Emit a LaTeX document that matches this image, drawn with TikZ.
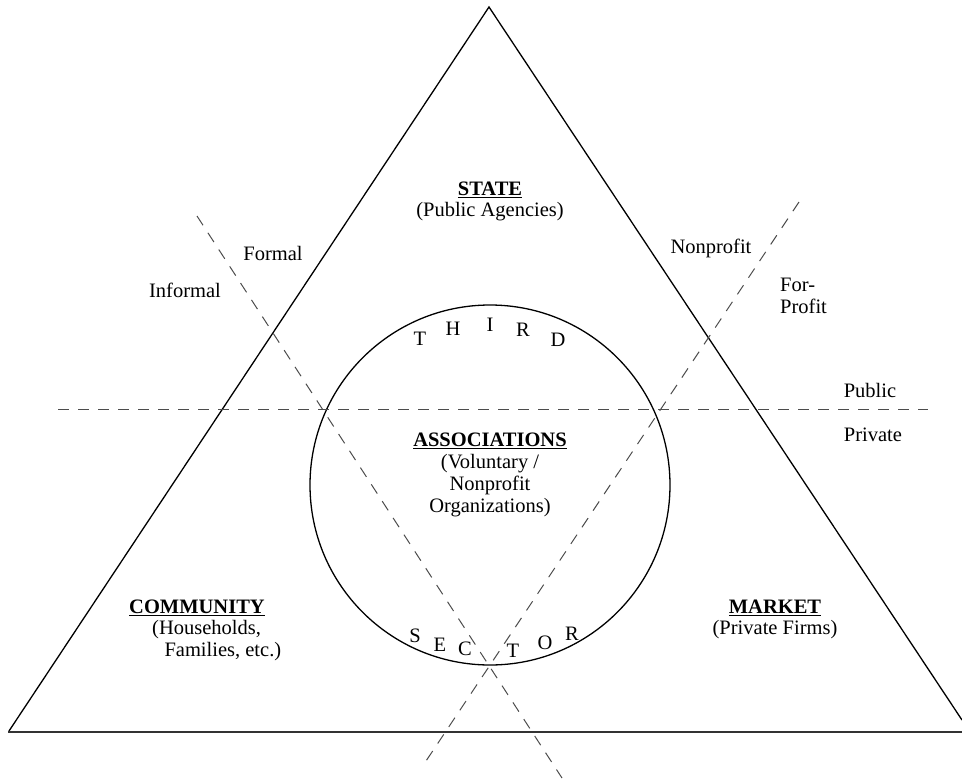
\documentclass[tikz,border=0pt]{standalone}
\usepackage{fontspec}
\setmainfont{Liberation Serif}
\begin{document}
\begin{tikzpicture}[x=1pt,y=-1pt,
  lbl/.style={font=\fontsize{20.5}{22}\selectfont, inner sep=0pt, align=center},
  ttl/.style={lbl, font=\fontsize{20.5}{22}\selectfont\bfseries},
  side/.style={line width=1.3pt, black},
  dsh/.style={line width=1pt, black!70, dash pattern=on 11pt off 9pt}]
\useasboundingbox (0,0) rectangle (962,780);
% triangle
\coordinate (apex) at (489,7);
\coordinate (bl) at (9,731);
\coordinate (br) at (962,720);
\draw[side, line join=miter] (bl) -- (apex) -- (br);
\draw[line width=2pt, black!80] (8,732) -- (962,732);
% circle
\draw[line width=1.3pt] (490,485) circle (180);
% dashed lines
\draw[dsh] (58,409) -- (928,409);
\draw[dsh] (197,216) -- (562,778);
\draw[dsh] (799,202) -- (422,767);
% titles
\node[ttl] (state) at (490,190) {\underline{STATE}};
\node[lbl] (statesub) at (490,212) {(Public Agencies)};
\node[ttl] (assoc) at (490,441) {\underline{ASSOCIATIONS}};
\node[lbl] (assocsub) at (490,486) {(Voluntary /\\Nonprofit\\Organizations)};
\node[ttl] (comm) at (197,608) {\underline{COMMUNITY}};
\node[lbl, align=left, anchor=west] (commsub) at (152,641) {(Households,\\\hspace*{0.6em}Families, etc.)};
\node[ttl] (market) at (775,608) {\underline{MARKET}};
\node[lbl] (marketsub) at (775,630) {(Private Firms)};
% side labels
\node[lbl] (formal) at (273,253) {Formal};
\node[lbl] (informal) at (185,290) {Informal};
\node[lbl] (nonprofit) at (711,248) {Nonprofit};
\node[lbl, align=left, anchor=west] (forprofit) at (780,296) {For-\\Profit};
\node[lbl] (public) at (870,390) {Public};
\node[lbl] (private) at (873,435) {Private};
% THIRD
\node[lbl] (t1) at (420,339) {T};
\node[lbl] (h1) at (453,329) {H};
\node[lbl] (i1) at (490,325) {I};
\node[lbl] (r1) at (523,330) {R};
\node[lbl] (d1) at (558,340) {D};
% SECTOR
\node[lbl] (s2) at (415,636) {S};
\node[lbl] (e2) at (440,645) {E};
\node[lbl] (c2) at (465,649) {C};
\node[lbl] (t2) at (513,651) {T};
\node[lbl] (o2) at (545,643) {O};
\node[lbl] (r2) at (572,634) {R};
\end{tikzpicture}
\end{document}
